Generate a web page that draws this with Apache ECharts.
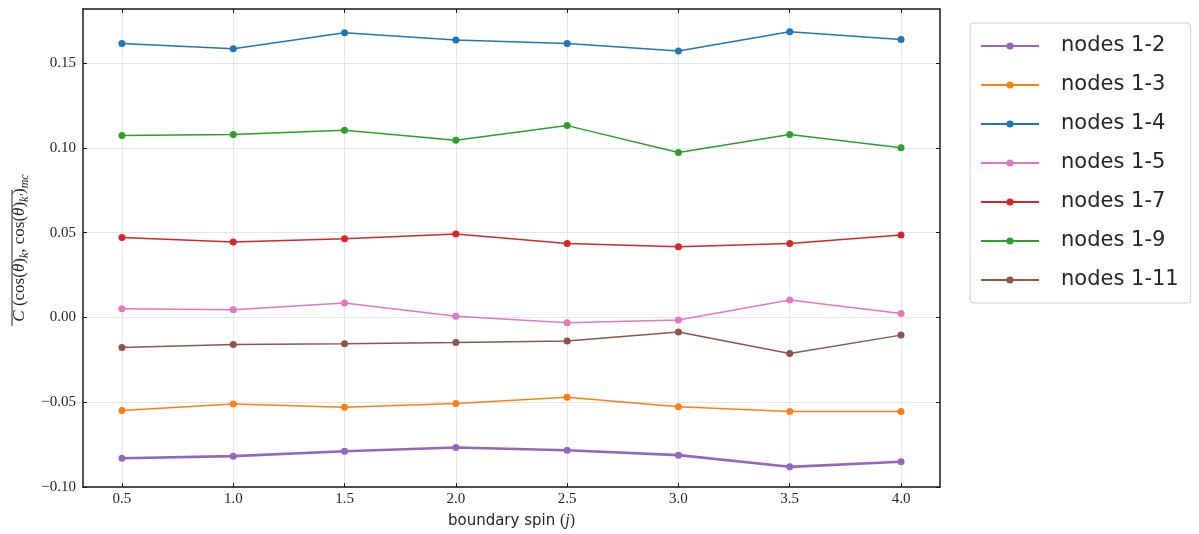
<!DOCTYPE html>
<html>
<head>
<meta charset="utf-8">
<script src="https://cdn.jsdelivr.net/npm/echarts@6/dist/echarts.min.js"></script>
<style>html,body{margin:0;padding:0;background:#fff}#c{width:1199px;height:534px}</style>
</head>
<body>
<div id="c"></div>
<script>
const spins = [0.5, 1.0, 1.5, 2.0, 2.5, 3.0, 3.5, 4.0];
const xTicks = [0.5, 1.0, 1.5, 2.0, 2.5, 3.0, 3.5, 4.0];
const yTicks = [-0.10, -0.05, 0.00, 0.05, 0.10, 0.15];
const seriesNames = ['nodes 1-2', 'nodes 1-3', 'nodes 1-4', 'nodes 1-5', 'nodes 1-7', 'nodes 1-9', 'nodes 1-11'];
const nodes12 = [-0.0830, -0.0818, -0.0789, -0.0767, -0.0783, -0.0812, -0.0881, -0.0851];
const nodes13 = [-0.0549, -0.0511, -0.0529, -0.0508, -0.0470, -0.0527, -0.0555, -0.0555];
const nodes14 = [0.1616, 0.1586, 0.1680, 0.1637, 0.1616, 0.1572, 0.1686, 0.1640];
const nodes15 = [0.0051, 0.0045, 0.0085, 0.0008, -0.0031, -0.0015, 0.0103, 0.0024];
const nodes17 = [0.0472, 0.0445, 0.0465, 0.0492, 0.0437, 0.0417, 0.0437, 0.0486];
const nodes19 = [0.1073, 0.1079, 0.1105, 0.1046, 0.1132, 0.0973, 0.1079, 0.1002];
const nodes111 = [-0.0177, -0.0159, -0.0155, -0.0148, -0.0138, -0.0086, -0.0213, -0.0104];
const allValues = [nodes12, nodes13, nodes14, nodes15, nodes17, nodes19, nodes111];
const colors = ['#9467bd', '#ff7f0e', '#1f77b4', '#e377c2', '#d62728', '#2ca02c', '#8c564b'];
const widths = [2.6, 1.5, 1.5, 1.5, 1.5, 1.5, 1.5];

const chart = echarts.init(document.getElementById('c'), null, {renderer: 'canvas'});
const fmtY = v => (v < 0 ? '\u2212' : '') + Math.abs(v).toFixed(2);
const fmtX = v => v.toFixed(1);
const frameColor = '#1a1a1a';
const tickFont = {fontFamily: 'Liberation Serif', fontSize: 15, color: '#262626'};

const series = seriesNames.map((name, i) => ({
  name: name,
  type: 'line',
  xAxisIndex: 0,
  yAxisIndex: 0,
  data: spins.map((x, k) => [x, allValues[i][k]]),
  symbol: 'circle',
  symbolSize: 7,
  showSymbol: true,
  itemStyle: {color: colors[i]},
  lineStyle: {color: colors[i], width: widths[i]},
  emphasis: {disabled: true},
  z: i === 0 ? 5 : 3,
  animation: false
}));

chart.setOption({
  animation: false,
  backgroundColor: '#fff',
  grid: {left: 83, top: 9, right: 259, bottom: 47, containLabel: false, outerBoundsMode: 'none'},
  legend: {
    orient: 'vertical',
    left: 970,
    top: 23,
    data: seriesNames,
    itemWidth: 58,
    itemHeight: 9,
    itemGap: 13,
    padding: [10, 12, 10, 10],
    borderColor: '#d0d0d0',
    borderWidth: 1,
    borderRadius: 4,
    backgroundColor: '#fff',
    textStyle: {fontFamily: 'DejaVu Sans', fontSize: 21, color: '#262626', lineHeight: 26, padding: [0, 0, 0, 17]}
  },
  graphic: [{
    type: 'line',
    silent: true,
    shape: {x1: 12, y1: 190, x2: 12, y2: 326},
    style: {stroke: '#262626', lineWidth: 1}
  }],
  xAxis: [{
    type: 'value',
    min: 0.325, max: 4.175,
    position: 'bottom',
    name: '{t|boundary spin }{p|(}{j|j}{p|)}',
    nameLocation: 'middle',
    nameGap: 26,
    nameTextStyle: {
      rich: {
        t: {fontFamily: 'DejaVu Sans', fontSize: 15, color: '#262626'},
        p: {fontFamily: 'Liberation Serif', fontSize: 16, color: '#262626'},
        j: {fontFamily: 'Liberation Serif', fontStyle: 'italic', fontSize: 16, color: '#262626'}
      }
    },
    axisLine: {show: true, onZero: false, lineStyle: {color: frameColor, width: 1.5}},
    axisTick: {show: true, inside: true, length: 4, customValues: xTicks, lineStyle: {color: frameColor, width: 1}},
    axisLabel: {show: true, customValues: xTicks, formatter: fmtX, margin: 5, ...tickFont},
    splitLine: {show: true, lineStyle: {color: '#e6e6e6', width: 1}}
  }, {
    type: 'value',
    min: 0.325, max: 4.175,
    position: 'top',
    axisLine: {show: true, onZero: false, lineStyle: {color: frameColor, width: 1.5}},
    axisTick: {show: true, inside: true, length: 4, customValues: xTicks, lineStyle: {color: frameColor, width: 1}},
    axisLabel: {show: false},
    splitLine: {show: false}
  }],
  yAxis: [{
    type: 'value',
    min: -0.10, max: 0.182,
    position: 'left',
    name: '{c|C}{t| (cos(}{i|θ}{t|)}{s|k}{t|, cos(}{i|θ}{t|)}{s|k′}{t|)}{s|mc}',
    nameLocation: 'middle',
    nameRotate: 90,
    nameGap: 48,
    nameTextStyle: {
      rich: {
        c: {fontFamily: 'Liberation Serif', fontStyle: 'italic', fontSize: 17, color: '#262626', lineHeight: 22, verticalAlign: 'middle'},
        i: {fontFamily: 'Liberation Serif', fontStyle: 'italic', fontSize: 17, color: '#262626', lineHeight: 22, verticalAlign: 'middle'},
        t: {fontFamily: 'Liberation Serif', fontSize: 17, color: '#262626', lineHeight: 22, verticalAlign: 'middle'},
        s: {fontFamily: 'Liberation Serif', fontStyle: 'italic', fontSize: 12, color: '#262626', lineHeight: 22, verticalAlign: 'bottom'}
      }
    },
    axisLine: {show: true, onZero: false, lineStyle: {color: frameColor, width: 1.5}},
    axisTick: {show: true, inside: true, length: 4, customValues: yTicks, lineStyle: {color: frameColor, width: 1}},
    axisLabel: {show: true, customValues: yTicks, formatter: fmtY, margin: 7, ...tickFont},
    splitLine: {show: true, lineStyle: {color: '#e6e6e6', width: 1}}
  }, {
    type: 'value',
    min: -0.10, max: 0.182,
    position: 'right',
    axisLine: {show: true, onZero: false, lineStyle: {color: frameColor, width: 1.5}},
    axisTick: {show: true, inside: true, length: 4, customValues: yTicks, lineStyle: {color: frameColor, width: 1}},
    axisLabel: {show: false},
    splitLine: {show: false}
  }],
  series: series
});
</script>
</body>
</html>
